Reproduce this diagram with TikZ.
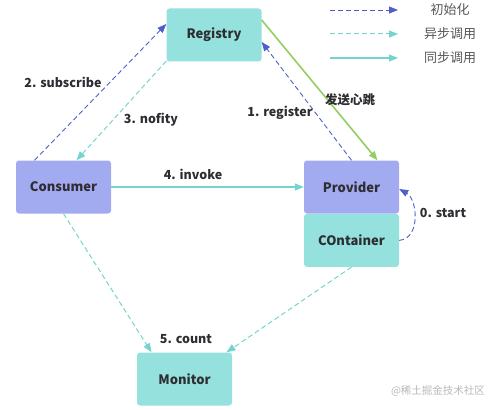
\documentclass[tikz,border=0pt]{standalone}
\usepackage{fontspec}
\setmainfont{Noto Sans CJK SC}
\usetikzlibrary{arrows.meta}
\definecolor{boxteal}{RGB}{148,225,221}
\definecolor{boxblue}{RGB}{163,171,240}
\definecolor{initblue}{RGB}{78,96,200}
\definecolor{asyncteal}{RGB}{118,212,206}
\definecolor{beatgreen}{RGB}{146,206,96}
\definecolor{txtdark}{RGB}{45,45,50}
\begin{document}
\begin{tikzpicture}[x=1pt, y=-1pt, line join=round, >={Triangle[length=9pt,width=7pt]},
	box/.style={rounded corners=3pt, minimum width=95pt, minimum height=53pt, inner sep=0pt,
		font=\fontsize{13}{15}\selectfont\bfseries, text=txtdark},
	lbl/.style={font=\fontsize{12.5}{14}\selectfont\bfseries, text=txtdark},
	leg/.style={font=\fontsize{13}{15}\selectfont, text=txtdark!80},
	init/.style={->, initblue, line width=0.9pt, dash pattern=on 5pt off 3pt},
	async/.style={->, asyncteal, line width=1pt, dash pattern=on 5pt off 3pt},
	sync/.style={->, asyncteal, line width=1.2pt}]
	\useasboundingbox (0,0) rectangle (497,409);
	% Kasten
	\node[box, fill=boxteal] (reg) at (214,35) {Registry};
	\node[box, fill=boxblue] (cons) at (63.5,187) {Consumer};
	\node[box, fill=boxblue] (prov) at (351.5,187) {Provider};
	\node[box, fill=boxteal, anchor=north] (cont) at (prov.south) {COntainer};
	\node[box, fill=boxteal] (mon) at (184.5,379) {Monitor};
	% Verbindungen
	\draw[init] ([xshift=-29pt]cons.north) -- ([yshift=11pt]reg.west);
	\draw[async] ([yshift=-26pt]reg.west) -- ([xshift=13pt]cons.north);
	\draw[init] (prov.north) -- ([yshift=-7pt]reg.east);
	\draw[->, beatgreen, line width=1.6pt] ([yshift=15pt]reg.east) -- ([xshift=26pt]prov.north);
	\draw[sync] (cons.east) -- (prov.west);
	\draw[init] (cont.east) .. controls +(22,-2) and +(18,10) .. ([yshift=-2pt]prov.east);
	\draw[async] (cons.south) -- ([xshift=-33pt]mon.north);
	\draw[async] (cont.south) -- ([xshift=42pt]mon.north);
	% Beschriftungen
	\node[lbl] (lsub) at (63,82) {2. subscribe};
	\node[lbl] (lnot) at (151,120) {3. nofity};
	\node[lbl] (lreg) at (280,113) {1. register};
	\node[lbl] (lbeat) at (350,100) {发送心跳};
	\node[lbl] (linv) at (193,174) {4. invoke};
	\node[lbl] (lsta) at (443,213) {0. start};
	\node[lbl] (lcnt) at (186,339) {5. count};
	% Legende
	\coordinate (la1) at (330,10); \coordinate (lb1) at (398,10);
	\coordinate (la2) at (330,34); \coordinate (lb2) at (398,34);
	\coordinate (la3) at (330,58); \coordinate (lb3) at (398,58);
	\draw[init] (la1) -- (lb1);
	\draw[async] (la2) -- (lb2);
	\draw[sync] (la3) -- (lb3);
	\node[leg] (t1) at (450,10) {初始化};
	\node[leg] (t2) at (450,34) {异步调用};
	\node[leg] (t3) at (450,58) {同步调用};
	\node[font=\fontsize{10.5}{12}\selectfont, text=black!28] (wm) at (438,391) {@稀土掘金技术社区};
\end{tikzpicture}
\end{document}
